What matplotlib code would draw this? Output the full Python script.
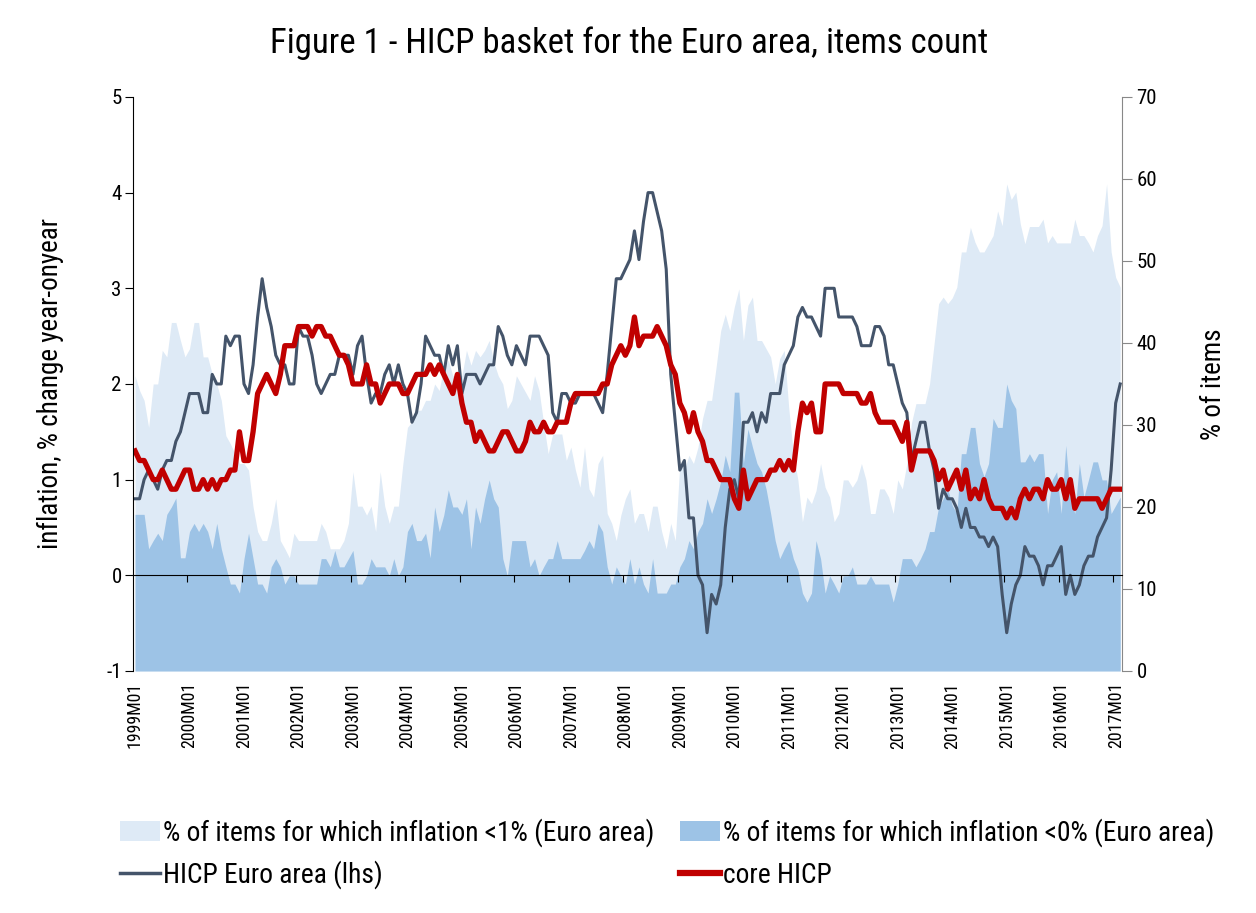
import matplotlib
matplotlib.use('Agg')
import matplotlib.pyplot as plt
from matplotlib.patches import Patch
from matplotlib.lines import Line2D
import numpy as np

plt.rcParams['font.family'] = ['Roboto Condensed', 'Liberation Sans Narrow', 'Roboto', 'DejaVu Sans']
plt.rcParams['axes.unicode_minus'] = False

# monthly categories 1999M01 .. 2017M02
months = [f'{y}M{m:02d}' for y in range(1999, 2018) for m in range(1, 13)][:218]

# HICP Euro area, % y-o-y (lhs)
hicp = [0.8, 0.8, 1.0, 1.1, 1.0, 0.9, 1.1, 1.2, 1.2, 1.4, 1.5, 1.7,
        1.9, 1.9, 1.9, 1.7, 1.7, 2.1, 2.0, 2.0, 2.5, 2.4, 2.5, 2.5,
        2.0, 1.9, 2.2, 2.7, 3.1, 2.8, 2.6, 2.3, 2.2, 2.2, 2.0, 2.0,
        2.6, 2.5, 2.5, 2.3, 2.0, 1.9, 2.0, 2.1, 2.1, 2.3, 2.3, 2.3,
        2.1, 2.4, 2.5, 2.1, 1.8, 1.9, 1.9, 2.1, 2.2, 2.0, 2.2, 2.0,
        1.9, 1.6, 1.7, 2.0, 2.5, 2.4, 2.3, 2.3, 2.1, 2.4, 2.2, 2.4,
        1.9, 2.1, 2.1, 2.1, 2.0, 2.1, 2.2, 2.2, 2.6, 2.5, 2.3, 2.2,
        2.4, 2.3, 2.2, 2.5, 2.5, 2.5, 2.4, 2.3, 1.7, 1.6, 1.9, 1.9,
        1.8, 1.8, 1.9, 1.9, 1.9, 1.9, 1.8, 1.7, 2.1, 2.6, 3.1, 3.1,
        3.2, 3.3, 3.6, 3.3, 3.7, 4.0, 4.0, 3.8, 3.6, 3.2, 2.1, 1.6,
        1.1, 1.2, 0.6, 0.6, 0.0, -0.1, -0.6, -0.2, -0.3, -0.1, 0.5, 0.9,
        1.0, 0.8, 1.6, 1.6, 1.7, 1.5, 1.7, 1.6, 1.9, 1.9, 1.9, 2.2,
        2.3, 2.4, 2.7, 2.8, 2.7, 2.7, 2.6, 2.5, 3.0, 3.0, 3.0, 2.7,
        2.7, 2.7, 2.7, 2.6, 2.4, 2.4, 2.4, 2.6, 2.6, 2.5, 2.2, 2.2,
        2.0, 1.8, 1.7, 1.2, 1.4, 1.6, 1.6, 1.3, 1.1, 0.7, 0.9, 0.8,
        0.8, 0.7, 0.5, 0.7, 0.5, 0.5, 0.4, 0.4, 0.3, 0.4, 0.3, -0.2,
        -0.6, -0.3, -0.1, 0.0, 0.3, 0.2, 0.2, 0.1, -0.1, 0.1, 0.1, 0.2,
        0.3, -0.2, 0.0, -0.2, -0.1, 0.1, 0.2, 0.2, 0.4, 0.5, 0.6, 1.1,
        1.8, 2.0]

# core HICP, % y-o-y (lhs)
core = [1.3, 1.2, 1.2, 1.1, 1.0, 1.0, 1.1, 1.0, 0.9, 0.9, 1.0, 1.1,
        1.1, 0.9, 0.9, 1.0, 0.9, 1.0, 0.9, 1.0, 1.0, 1.1, 1.1, 1.5,
        1.2, 1.2, 1.5, 1.9, 2.0, 2.1, 2.0, 1.9, 2.1, 2.4, 2.4, 2.4,
        2.6, 2.6, 2.6, 2.5, 2.6, 2.6, 2.5, 2.5, 2.4, 2.3, 2.3, 2.2,
        2.0, 2.0, 2.0, 2.2, 2.0, 2.0, 1.8, 1.9, 2.0, 2.0, 2.0, 1.9,
        1.9, 2.0, 2.1, 2.1, 2.1, 2.2, 2.1, 2.2, 2.1, 2.0, 1.9, 2.1,
        1.8, 1.6, 1.6, 1.4, 1.5, 1.4, 1.3, 1.3, 1.4, 1.5, 1.5, 1.4,
        1.3, 1.3, 1.4, 1.6, 1.5, 1.5, 1.6, 1.5, 1.5, 1.6, 1.6, 1.6,
        1.8, 1.9, 1.9, 1.9, 1.9, 1.9, 1.9, 2.0, 2.0, 2.2, 2.3, 2.4,
        2.3, 2.4, 2.7, 2.4, 2.5, 2.5, 2.5, 2.6, 2.5, 2.4, 2.2, 2.1,
        1.8, 1.7, 1.5, 1.7, 1.5, 1.4, 1.2, 1.2, 1.1, 1.0, 1.0, 1.0,
        0.8, 0.7, 1.1, 0.8, 0.9, 1.0, 1.0, 1.0, 1.1, 1.1, 1.2, 1.1,
        1.2, 1.1, 1.5, 1.8, 1.7, 1.8, 1.5, 1.5, 2.0, 2.0, 2.0, 2.0,
        1.9, 1.9, 1.9, 1.9, 1.8, 1.8, 1.9, 1.7, 1.6, 1.6, 1.6, 1.6,
        1.5, 1.4, 1.6, 1.1, 1.3, 1.3, 1.3, 1.3, 1.2, 1.0, 1.1, 0.9,
        1.0, 1.1, 0.9, 1.1, 0.8, 0.9, 0.8, 1.0, 0.8, 0.7, 0.7, 0.7,
        0.6, 0.7, 0.6, 0.8, 0.9, 0.8, 0.9, 0.9, 0.8, 1.0, 0.9, 0.9,
        1.0, 0.8, 1.0, 0.7, 0.8, 0.8, 0.8, 0.8, 0.8, 0.7, 0.8, 0.9,
        0.9, 0.9]

# % of items with inflation < 1% (rhs)
below1 = [36.0, 34.2, 33.0, 29.7, 35.0, 35.0, 39.1, 38.3, 42.5, 42.5, 40.3, 38.3,
          39.3, 42.5, 42.5, 38.3, 38.3, 36.2, 35.0, 33.0, 28.7, 27.7, 26.5, 25.3,
          25.3, 24.5, 20.0, 17.0, 15.9, 15.9, 18.0, 21.0, 15.9, 14.9, 13.8, 16.8,
          15.9, 15.9, 15.9, 15.9, 15.9, 18.0, 17.0, 14.9, 14.9, 14.9, 15.9, 18.0,
          24.3, 20.1, 20.1, 19.0, 20.1, 17.0, 24.3, 20.1, 18.0, 20.1, 20.1, 25.3,
          29.7, 30.4, 31.8, 31.8, 33.0, 33.0, 35.0, 34.2, 37.1, 37.9, 36.0, 36.0,
          36.0, 39.1, 37.3, 39.1, 38.3, 39.1, 40.3, 37.7, 36.0, 35.0, 32.0, 33.0,
          36.0, 35.0, 34.0, 33.0, 36.0, 34.2, 30.2, 26.5, 28.9, 28.9, 28.9, 25.7,
          27.3, 24.5, 22.4, 27.3, 22.2, 21.2, 25.3, 26.3, 19.2, 18.0, 15.9, 19.0,
          21.0, 22.2, 18.0, 19.2, 19.2, 17.0, 20.1, 20.1, 17.0, 14.9, 18.0, 15.9,
          25.3, 24.5, 26.3, 25.3, 27.3, 30.8, 33.0, 33.0, 37.1, 41.5, 43.5, 41.5,
          44.4, 46.6, 40.3, 44.6, 45.6, 40.3, 40.3, 39.3, 38.3, 35.0, 38.1, 39.1,
          32.0, 26.5, 23.3, 18.2, 21.2, 20.4, 22.0, 25.3, 22.4, 21.2, 18.2, 19.2,
          23.3, 23.3, 22.4, 23.3, 25.3, 23.3, 19.2, 19.2, 22.2, 22.2, 21.2, 19.2,
          23.3, 22.2, 25.3, 30.2, 32.6, 32.6, 32.6, 35.0, 39.9, 44.8, 45.6, 44.8,
          45.5, 46.8, 51.1, 51.1, 54.1, 52.3, 51.1, 51.1, 52.1, 53.1, 56.1, 54.3,
          59.4, 57.5, 58.4, 54.5, 52.1, 54.2, 54.2, 54.2, 55.1, 52.2, 53.1, 52.2,
          52.2, 52.2, 52.2, 55.1, 53.1, 53.1, 52.2, 51.1, 53.1, 54.3, 59.4, 51.1,
          48.0, 46.8]

# % of items with inflation < 0% (rhs)
below0 = [19.1, 19.1, 19.1, 14.9, 15.9, 16.8, 15.9, 19.1, 20.0, 21.1, 13.8, 13.8,
          17.0, 18.0, 17.0, 18.0, 17.0, 14.9, 18.0, 14.9, 12.7, 10.6, 10.6, 9.5,
          13.7, 16.8, 13.7, 10.6, 10.6, 9.5, 12.7, 13.7, 12.7, 10.6, 11.6, 11.6,
          10.6, 10.6, 10.6, 10.6, 10.6, 13.7, 13.7, 12.7, 14.7, 12.7, 12.7, 13.7,
          14.7, 10.6, 10.6, 11.6, 13.7, 12.7, 12.7, 12.7, 11.6, 13.7, 11.6, 12.7,
          17.0, 18.0, 15.9, 15.9, 16.8, 13.8, 20.0, 17.0, 19.0, 22.1, 20.0, 20.0,
          19.1, 21.0, 14.9, 20.0, 18.0, 21.0, 23.3, 21.0, 20.0, 13.7, 11.6, 15.9,
          15.9, 15.9, 15.9, 12.7, 13.7, 11.6, 12.7, 13.7, 13.7, 15.9, 13.7, 13.7,
          13.7, 13.7, 13.7, 14.7, 15.9, 14.9, 18.0, 17.0, 12.7, 10.6, 12.7, 11.6,
          10.6, 13.7, 10.6, 12.7, 10.6, 9.5, 13.7, 9.5, 9.5, 9.5, 10.6, 10.6,
          12.7, 13.7, 15.9, 14.9, 17.0, 18.0, 21.0, 19.2, 21.0, 23.1, 26.3, 24.3,
          34.0, 34.0, 25.3, 29.5, 27.3, 25.3, 24.3, 22.2, 19.2, 15.9, 13.7, 14.9,
          15.9, 13.7, 12.3, 9.5, 8.4, 9.5, 15.9, 13.7, 9.5, 11.6, 10.6, 9.5,
          11.6, 11.6, 12.7, 10.6, 10.6, 10.6, 11.6, 10.6, 10.6, 10.6, 10.6, 8.4,
          10.6, 13.7, 13.7, 13.7, 12.7, 13.7, 14.9, 17.0, 17.0, 20.0, 21.0, 22.2,
          20.2, 19.2, 26.5, 26.5, 29.7, 29.7, 25.3, 23.7, 25.3, 30.8, 29.7, 29.7,
          35.0, 33.0, 32.0, 25.5, 25.5, 26.5, 25.5, 26.5, 26.5, 19.2, 23.3, 24.3,
          19.2, 27.5, 21.2, 19.2, 25.3, 21.2, 23.3, 25.5, 25.5, 23.3, 23.3, 19.2,
          20.2, 21.2]

title = 'Figure 1 - HICP basket for the Euro area, items count'
lab_lt1 = '% of items for which inflation <1% (Euro area)'
lab_lt0 = '% of items for which inflation <0% (Euro area)'
lab_hicp = 'HICP Euro area (lhs)'
lab_core = 'core HICP'

c_light = '#DEEAF6'
c_dark = '#9DC3E6'
c_hicp = '#44546A'
c_core = '#C00000'

x = np.arange(len(months))

fig = plt.figure(figsize=(12.56, 9.13), dpi=100)
r = fig.canvas.get_renderer()


def fit_size(s, target_px, base=20):
    # font size that makes the string about target_px wide
    t = fig.text(0, 0, s, fontsize=base)
    w = t.get_window_extent(renderer=r).width
    t.remove()
    return base * target_px / w


fs_title = fit_size(title, 715)
fs_leg = fit_size(lab_lt1, 492)
fs_ylab = fit_size('inflation, % change year-onyear', 330)
fs_xt = fit_size('1999M01', 66)

rect = [0.1057, 0.2651, 0.7880, 0.6287]

# right axis: share of items (areas)
ax = fig.add_axes(rect)
ax.fill_between(x, 0, below1, color=c_light, lw=0)
ax.fill_between(x, 0, below0, color=c_dark, lw=0)
ax.set_xlim(-0.5, 217.5)
ax.set_ylim(0, 70)
ax.set_yticks(range(0, 71, 10))
ax.yaxis.tick_right()
ax.yaxis.set_label_position('right')
ax.set_ylabel('% of items', fontsize=fs_ylab, labelpad=31)
ax.tick_params(axis='y', direction='out', length=7, color='#888888', labelsize=15, pad=3)
ax.set_xticks(x[::12])
ax.set_xticklabels(months[::12], rotation=90, fontsize=fs_xt)
ax.tick_params(axis='x', length=0, pad=8)
for s in ['top', 'left', 'bottom']:
    ax.spines[s].set_visible(False)
ax.spines['right'].set_color('#888888')

# left axis: inflation lines
ax2 = fig.add_axes(rect)
ax2.patch.set_visible(False)
ax2.plot(x, hicp, color=c_hicp, lw=2.2, solid_joinstyle='round')
ax2.plot(x, core, color=c_core, lw=3.8, solid_joinstyle='round')
ax2.set_xlim(-0.5, 217.5)
ax2.set_ylim(-1, 5)
ax2.set_yticks(range(-1, 6))
ax2.tick_params(axis='y', direction='out', length=6, labelsize=15, pad=2)
ax2.set_ylabel('inflation, % change year-onyear', fontsize=fs_ylab, labelpad=30)
ax2.set_xticks(np.arange(11.5, 216, 12))
ax2.tick_params(axis='x', direction='out', length=5, labelbottom=False)
ax2.spines['bottom'].set_position(('data', 0))
for s in ['top', 'right']:
    ax2.spines[s].set_visible(False)

fig.text(0.501, 0.953, title, ha='center', va='center', fontsize=fs_title)

# legend: four single entries placed like the original's 2x2 grid
fs_px = fs_leg * 100 / 72
leg_kw = dict(frameon=False, fontsize=fs_leg, handlelength=40 / fs_px,
              handleheight=20 / fs_px, handletextpad=3 / fs_px,
              borderpad=0, borderaxespad=0, loc='center left')
entries = [
    (Patch(color=c_light, lw=0), lab_lt1, (120 / 1256, 1 - 833 / 913)),
    (Patch(color=c_dark, lw=0), lab_lt0, (680 / 1256, 1 - 833 / 913)),
    (Line2D([], [], color=c_hicp, lw=2.5), lab_hicp, (120 / 1256, 1 - 875 / 913)),
    (Line2D([], [], color=c_core, lw=4.5), lab_core, (680 / 1256, 1 - 875 / 913)),
]
for h, lab, anchor in entries:
    fig.legend([h], [lab], bbox_to_anchor=anchor, **leg_kw)

fig.savefig('out.png', dpi=100)
